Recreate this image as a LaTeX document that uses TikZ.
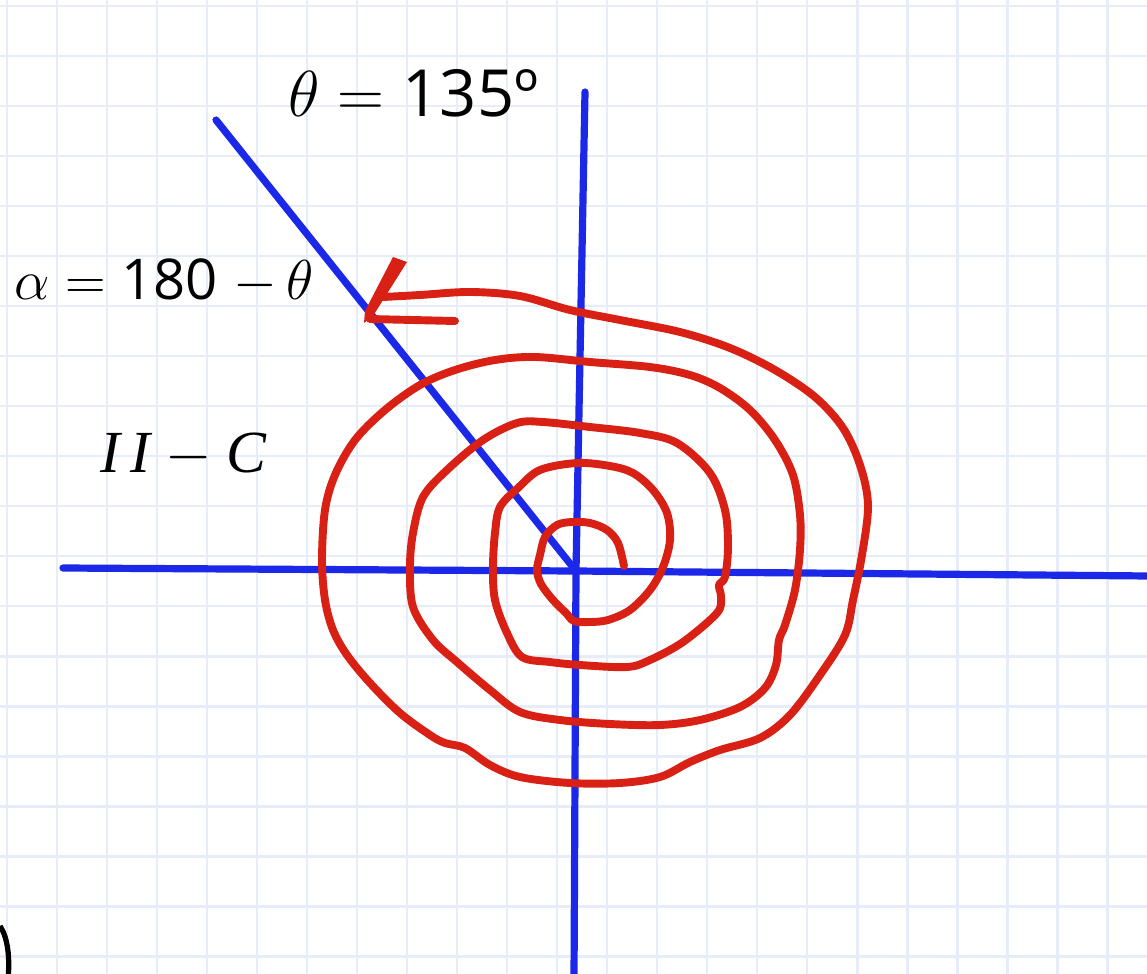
\RequirePackage{fix-cm}
\documentclass[tikz,border=0pt]{standalone}
\usepackage{fontspec}
\setmainfont{Open Sans}
\newfontfamily\timesfont{Liberation Serif}
\definecolor{penblue}{RGB}{28,40,232}
\definecolor{penred}{RGB}{217,32,20}
\definecolor{paper}{RGB}{230,236,248}
\tikzset{
	gridline/.style={paper,line width=1.7pt},
	bluepen/.style={penblue,line width=4.1pt,line cap=round},
	redpen/.style={penred,line width=4.5pt,line cap=round,line join=round},
	lab/.style={inner sep=0pt,anchor=base west},
}
\begin{document}
\begin{tikzpicture}[x=0.02cm,y=-0.02cm,>=stealth]
		%%Khung trang
		\def \xmin{0}
		\def \xmax{1147}
		\def \ymin{0}
		\def \ymax{974}
		\useasboundingbox (\xmin,\ymin) rectangle (\xmax,\ymax);
		\clip (\xmin,\ymin) rectangle (\xmax,\ymax);
		\fill[white] (\xmin,\ymin) rectangle (\xmax,\ymax);
		%%Giấy ô li
		\foreach \i in {0,...,22} \draw[gridline] (7+50*\i,\ymin)--(7+50*\i,\ymax);
		\foreach \j in {0,...,19} \draw[gridline] (\xmin,6+50*\j)--(\xmax,6+50*\j);
		%%Các trục
		\coordinate (O) at (576,571);
		\coordinate (xl) at (63,568);
		\coordinate (xr) at (1150,576);
		\coordinate (yt) at (585,92);
		\coordinate (yb) at (574,980);
		\coordinate (ray) at (216,120);
		\draw[bluepen] (xl)--(O)--(xr);
		\draw[bluepen] (yt)--(O)--(yb);
		\draw[bluepen] (ray)--(O);
		%%Đường xoắn ốc
		\draw[redpen] plot[smooth,tension=0.55] coordinates {
		(624,566) (618,543) (607,530) (590,523) (572,522) (557,525) (545,537)
		(540,555) (537,570) (541,584) (553,600) (566,613) (574,621) (590,622)
		(608,620) (630,610) (650,590) (663,567) (670,540) (667,513) (653,490)
		(633,473) (610,466) (577,463) (540,470) (518,488) (500,507) (495,533)
		(493,567) (495,600) (507,633) (522,657) (550,662) (580,665) (627,667)
		(650,660) (683,642) (717,613) (721,597) (719,585) (725,577) (728,547)
		(725,510) (710,473) (677,443) (640,433) (590,427) (543,422) (517,423)
		(483,440) (447,470) (423,497) (413,533) (410,567) (413,607) (433,640)
		(457,662) (490,690) (520,712) (560,720) (610,724) (660,725) (700,720)
		(740,707) (765,688) (776,665) (779,640) (785,625) (795,590) (800,550)
		(800,515) (793,475) (775,440) (750,410) (720,388) (690,375) (650,367)
		(590,362) (535,357) (495,360) (455,370) (420,385) (385,410) (355,440)
		(335,475) (325,510) (322,560) (325,600) (333,630) (347,655) (370,683)
		(400,713) (430,735) (445,743) (465,748) (490,765) (520,777) (570,783)
		(620,783) (660,777) (690,762) (720,750) (760,738) (790,715) (820,675)
		(845,635) (853,600) (862,555) (868,505) (860,465) (843,428) (815,397)
		(775,370) (730,348) (680,332) (620,320) (570,310) (520,296) (470,292)
		(420,295) (383,297)};
		%%Mũi tên vẽ tay
		\fill[penred] (393,257) -- (407,262) -- (373,316) -- (364,323) -- (365,311) -- cycle;
		\draw[redpen] (370,319) -- (455,321);
		%%Nhãn
		\node[lab] (theta) at (288,116) {\fontsize{37}{40}\selectfont $\theta = {}$135º};
		\node[lab] (alpha) at (14,299) {\fontsize{32}{36}\selectfont $\alpha = {}$180\;$-$\,$\theta$};
		\node[lab] (quad) at (100,472) {\fontsize{34}{36}\selectfont\timesfont\itshape I\,I $-$ C};
		%%Nét mực đen ở góc
		\draw[black,line width=3pt] (0,926) .. controls (8,938) and (10,958) .. (8,980);
	\end{tikzpicture}
\end{document}
